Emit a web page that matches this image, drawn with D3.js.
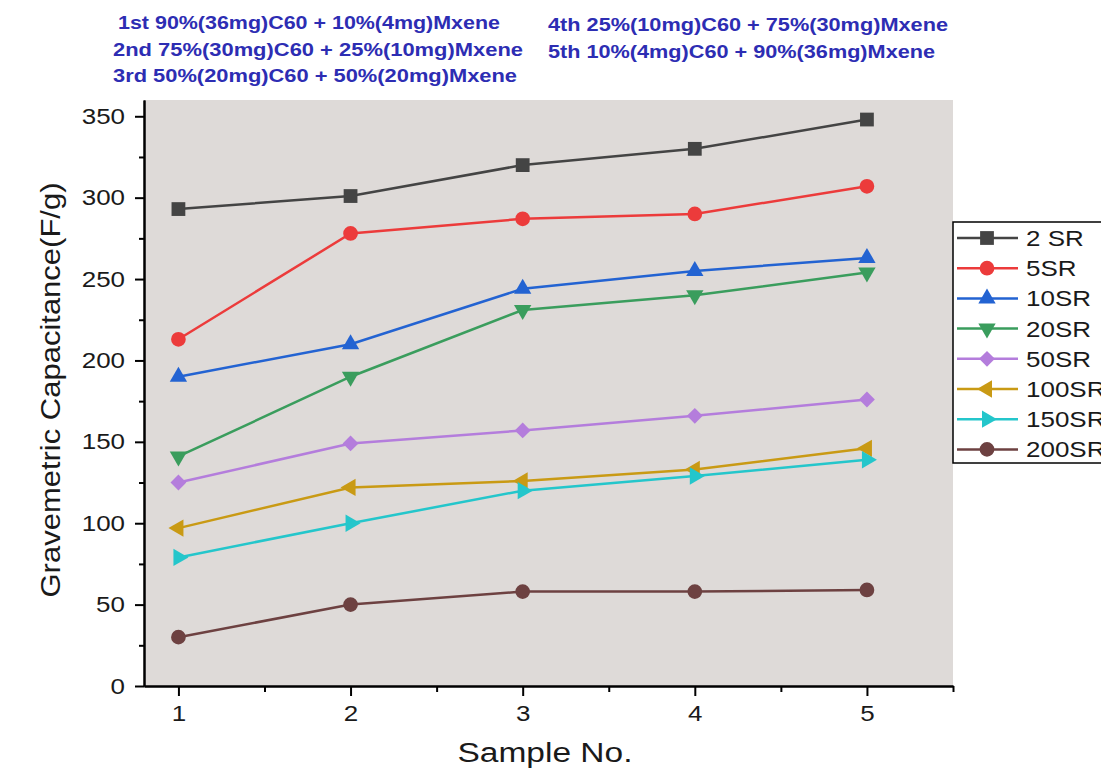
<!DOCTYPE html>
<html>
<head>
<meta charset="utf-8">
<script src="https://cdn.jsdelivr.net/npm/d3@7/dist/d3.min.js"></script>
<style>
  html, body { margin: 0; padding: 0; background: #ffffff; }
  svg { display: block; font-family: "Liberation Sans", Arial, sans-serif; }
</style>
</head>
<body>
<svg id="chart" width="1101" height="775"></svg>
<script>
// Sample numbers on the x axis
const samples = [1, 2, 3, 4, 5];

// Gravimetric capacitance (F/g) per scan rate
const sr2   = [293, 301, 320, 330, 348];
const sr5   = [213, 278, 287, 290, 307];
const sr10  = [190, 210, 244, 255, 263];
const sr20  = [141, 190, 231, 240, 254];
const sr50  = [125, 149, 157, 166, 176];
const sr100 = [97, 122, 126, 133, 146];
const sr150 = [79, 100, 120, 129, 139];
const sr200 = [30, 50, 58, 58, 59];

const seriesNames = ["2 SR", "5SR", "10SR", "20SR", "50SR", "100SR", "150SR", "200SR"];
const seriesValues = [sr2, sr5, sr10, sr20, sr50, sr100, sr150, sr200];

// Axis ticks
const yMajorTicks = [0, 50, 100, 150, 200, 250, 300, 350];
const yMinorTicks = [25, 75, 125, 175, 225, 275, 325];
const xMajorTicks = [1, 2, 3, 4, 5];
const xMinorTicks = [1.5, 2.5, 3.5, 4.5, 5.5];

// Composition notes shown above the plot
const notesLeft = [
  "1st 90%(36mg)C60 + 10%(4mg)Mxene",
  "2nd 75%(30mg)C60 + 25%(10mg)Mxene",
  "3rd 50%(20mg)C60 + 50%(20mg)Mxene"
];
const notesRight = [
  "4th 25%(10mg)C60 + 75%(30mg)Mxene",
  "5th 10%(4mg)C60 + 90%(36mg)Mxene"
];

// Styling per series: colour, marker shape and rotation
const styles = [
  { color: "#444444", type: d3.symbolSquare,   size: 190, rot: 0 },
  { color: "#ec3b3b", type: d3.symbolCircle,   size: 170, rot: 0 },
  { color: "#2363d2", type: d3.symbolTriangle, size: 130, rot: 0 },
  { color: "#3a9d5d", type: d3.symbolTriangle, size: 130, rot: 180 },
  { color: "#b47ddc", type: d3.symbolSquare,   size: 125, rot: 45 },
  { color: "#c99a14", type: d3.symbolTriangle, size: 130, rot: -90 },
  { color: "#24c6cb", type: d3.symbolTriangle, size: 130, rot: 90 },
  { color: "#6d4141", type: d3.symbolCircle,   size: 170, rot: 0 }
];

// The figure's lettering is set slightly wide
const WIDE = 1.18;
function widen(sel, factor) {
  sel.each(function () {
    const w = this.getComputedTextLength();
    d3.select(this).attr("textLength", w * factor).attr("lengthAdjust", "spacingAndGlyphs");
  });
}

const svg = d3.select("#chart");

const x = d3.scaleLinear().domain([0.8, 5.5]).range([144, 953]);
const y = d3.scaleLinear().domain([0, 360]).range([686, 100]);

// Plot background
svg.append("rect")
  .attr("x", x(0.8)).attr("y", y(360))
  .attr("width", x(5.5) - x(0.8)).attr("height", y(0) - y(360))
  .attr("fill", "#dedad8");

// Axes
function styleAxis(g) {
  g.selectAll("path.domain").attr("stroke", "#000").attr("stroke-width", 2);
  g.selectAll(".tick line").attr("stroke", "#000").attr("stroke-width", 2);
}

const yMinor = svg.append("g").attr("transform", `translate(${x(0.8)},0)`)
  .call(d3.axisLeft(y).tickValues(yMinorTicks).tickSize(5).tickSizeOuter(0).tickFormat(""));
styleAxis(yMinor);
const yAxis = svg.append("g").attr("transform", `translate(${x(0.8)},0)`)
  .call(d3.axisLeft(y).tickValues(yMajorTicks).tickSize(9).tickSizeOuter(0).tickPadding(10));
styleAxis(yAxis);
yAxis.selectAll("text").attr("font-size", 22).attr("fill", "#1a1a1a")
  .attr("font-family", "Liberation Sans, Arial, sans-serif");
widen(yAxis.selectAll("text"), WIDE);

const xMinor = svg.append("g").attr("transform", `translate(0,${y(0)})`)
  .call(d3.axisBottom(x).tickValues(xMinorTicks).tickSize(6).tickSizeOuter(0).tickFormat(""));
styleAxis(xMinor);
const xAxis = svg.append("g").attr("transform", `translate(0,${y(0)})`)
  .call(d3.axisBottom(x).tickValues(xMajorTicks).tickSize(10).tickSizeOuter(0)
    .tickPadding(9).tickFormat(d3.format("d")));
styleAxis(xAxis);
xAxis.selectAll("text").attr("font-size", 22).attr("fill", "#1a1a1a")
  .attr("font-family", "Liberation Sans, Arial, sans-serif");
widen(xAxis.selectAll("text"), WIDE);

// Axis titles
svg.append("text")
  .attr("x", 545).attr("y", 762)
  .attr("text-anchor", "middle").attr("font-size", 27).attr("fill", "#1a1a1a")
  .attr("textLength", 175).attr("lengthAdjust", "spacingAndGlyphs")
  .text("Sample No.");

svg.append("text")
  .attr("transform", `translate(60,390) rotate(-90)`)
  .attr("text-anchor", "middle").attr("font-size", 27).attr("fill", "#1a1a1a")
  .attr("textLength", 415).attr("lengthAdjust", "spacingAndGlyphs")
  .text("Gravemetric Capacitance(F/g)");

// Series lines and markers
const line = d3.line().x((d, i) => x(samples[i])).y(d => y(d));

seriesValues.forEach((vals, k) => {
  const st = styles[k];
  svg.append("path")
    .datum(vals)
    .attr("d", line)
    .attr("fill", "none")
    .attr("stroke", st.color)
    .attr("stroke-width", 2.5);
});

seriesValues.forEach((vals, k) => {
  const st = styles[k];
  svg.append("g").selectAll("path")
    .data(vals)
    .join("path")
    .attr("d", d3.symbol().type(st.type).size(st.size))
    .attr("transform", (d, i) => `translate(${x(samples[i])},${y(d)}) rotate(${st.rot})`)
    .attr("fill", st.color);
});

// Legend
const legend = svg.append("g");
legend.append("rect")
  .attr("x", 953).attr("y", 222).attr("width", 160).attr("height", 241)
  .attr("fill", "#ffffff").attr("stroke", "#000").attr("stroke-width", 1.5);

seriesNames.forEach((name, k) => {
  const st = styles[k];
  const cy = 238 + k * 30.2;
  legend.append("line")
    .attr("x1", 957).attr("x2", 1018).attr("y1", cy).attr("y2", cy)
    .attr("stroke", st.color).attr("stroke-width", 2.5);
  legend.append("path")
    .attr("d", d3.symbol().type(st.type).size(st.size))
    .attr("transform", `translate(987,${cy}) rotate(${st.rot})`)
    .attr("fill", st.color);
  const t = legend.append("text")
    .attr("x", 1026).attr("y", cy + 8)
    .attr("font-size", 22).attr("fill", "#1a1a1a")
    .text(name);
  widen(t, WIDE);
});

// Composition notes, each line set to its printed width
const noteColor = "#2d2db3";
const leftWidths = [382, 410, 404];
const rightWidths = [400, 387];
notesLeft.forEach((t, i) => {
  svg.append("text")
    .attr("x", i === 0 ? 118 : 113).attr("y", 29 + i * 26.5)
    .attr("font-size", 18).attr("font-weight", "bold").attr("fill", noteColor)
    .attr("textLength", leftWidths[i]).attr("lengthAdjust", "spacingAndGlyphs")
    .text(t);
});
notesRight.forEach((t, i) => {
  svg.append("text")
    .attr("x", 548).attr("y", 31 + i * 26.5)
    .attr("font-size", 18).attr("font-weight", "bold").attr("fill", noteColor)
    .attr("textLength", rightWidths[i]).attr("lengthAdjust", "spacingAndGlyphs")
    .text(t);
});
</script>
</body>
</html>
